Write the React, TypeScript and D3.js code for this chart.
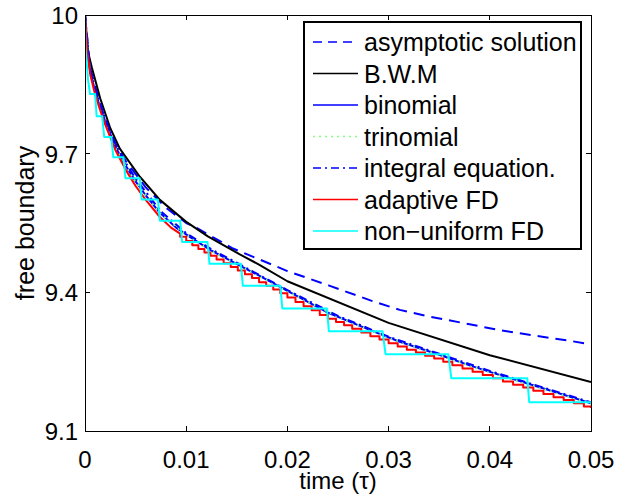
import React from 'react';
import * as d3 from 'd3';

const W = 628;
const H = 495;
const PL = 85, PR = 591, PT = 15, PB = 431;

const xTicks = [0, 0.01, 0.02, 0.03, 0.04, 0.05];
const xTickLabels = ['0', '0.01', '0.02', '0.03', '0.04', '0.05'];
const yTicks = [9.1, 9.4, 9.7, 10];
const yTickLabels = ['9.1', '9.4', '9.7', '10'];

// asymptotic solution
const asymT = [0, 0.0005, 0.001, 0.002, 0.003, 0.004, 0.006, 0.008, 0.01, 0.011, 0.0145, 0.02, 0.0242, 0.0284, 0.0311, 0.0339, 0.038, 0.041, 0.0442, 0.0477, 0.05];
const asymV = [10, 9.885, 9.845, 9.772, 9.722, 9.685, 9.627, 9.583, 9.550, 9.540, 9.496, 9.446, 9.414, 9.381, 9.362, 9.348, 9.331, 9.318, 9.307, 9.296, 9.287];

// B.W.M
const bwmT = [0, 0.0003, 0.00067, 0.0015, 0.0025, 0.00344, 0.00542, 0.0074, 0.00997, 0.01214, 0.0153, 0.01728, 0.02, 0.03, 0.04, 0.05];
const bwmV = [10, 9.92, 9.887, 9.82, 9.755, 9.711, 9.650, 9.600, 9.553, 9.521, 9.482, 9.459, 9.424, 9.334, 9.264, 9.206];

// binomial
const binT = [0, 0.0002, 0.0005, 0.001, 0.0015, 0.002, 0.003, 0.004, 0.005, 0.006, 0.0074, 0.009, 0.0107, 0.0125, 0.0153, 0.0173, 0.02, 0.0239, 0.028, 0.0311, 0.035, 0.038, 0.04, 0.045, 0.05];
const binV = [10, 9.93, 9.88, 9.835, 9.80, 9.77, 9.715, 9.675, 9.64, 9.61, 9.572, 9.54, 9.515, 9.49, 9.458, 9.435, 9.403, 9.357, 9.32, 9.293, 9.265, 9.242, 9.228, 9.194, 9.160];

// trinomial
const triT = [0, 0.0005, 0.001, 0.002, 0.003, 0.005, 0.0075, 0.01, 0.0125, 0.015, 0.0175, 0.02, 0.025, 0.03, 0.035, 0.04, 0.045, 0.05];
const triV = [10, 9.879, 9.834, 9.769, 9.714, 9.639, 9.569, 9.525, 9.489, 9.461, 9.432, 9.402, 9.347, 9.302, 9.264, 9.227, 9.193, 9.159];

// integral equation
const intT = [0, 0.0005, 0.001, 0.002, 0.003, 0.004, 0.005, 0.0075, 0.01, 0.0125, 0.015, 0.0175, 0.02, 0.025, 0.03, 0.035, 0.04, 0.045, 0.05];
const intV = [10, 9.885, 9.84, 9.775, 9.721, 9.681, 9.646, 9.575, 9.528, 9.493, 9.464, 9.434, 9.405, 9.349, 9.304, 9.267, 9.230, 9.196, 9.162];

// adaptive FD: smooth start, then staircase
const redStartT = [0, 0.0002, 0.0005, 0.001, 0.0015, 0.002, 0.003, 0.004, 0.005, 0.006, 0.0074, 0.0085, 0.0094];
const redStartV = [10, 9.925, 9.873, 9.828, 9.794, 9.763, 9.708, 9.666, 9.63, 9.600, 9.563, 9.540, 9.527];
const redStepT = [0.0094, 0.0100, 0.0106, 0.0112, 0.0118, 0.0124, 0.0130, 0.0137, 0.0144, 0.0151, 0.0158, 0.0165, 0.0172, 0.0179, 0.0186, 0.0193, 0.0200, 0.0208, 0.0216, 0.0224, 0.0232, 0.0240, 0.0248, 0.0256, 0.0264, 0.0273, 0.0282, 0.0291, 0.0300, 0.0309, 0.0318, 0.0327, 0.0336, 0.0345, 0.0354, 0.0363, 0.0373, 0.0383, 0.0393, 0.0403, 0.0413, 0.0423, 0.0433, 0.0443, 0.0453, 0.0463, 0.0473, 0.0483, 0.0493, 0.0500];
const redStepV = [9.520, 9.511, 9.502, 9.494, 9.486, 9.479, 9.471, 9.463, 9.455, 9.447, 9.439, 9.431, 9.422, 9.414, 9.406, 9.398, 9.389, 9.379, 9.370, 9.361, 9.351, 9.343, 9.336, 9.329, 9.321, 9.313, 9.305, 9.298, 9.290, 9.283, 9.276, 9.270, 9.263, 9.257, 9.250, 9.242, 9.235, 9.228, 9.221, 9.214, 9.207, 9.200, 9.194, 9.187, 9.180, 9.173, 9.167, 9.160, 9.153, 9.150];

// non-uniform FD
const cyanT = [0, 0.00005, 0.0003, 0.0005, 0.0010, 0.00115, 0.0017, 0.0019, 0.0026, 0.0028, 0.0038, 0.0040, 0.0054, 0.0056, 0.0072, 0.0074, 0.0094, 0.0096, 0.0121, 0.0123, 0.0154, 0.0156, 0.0193, 0.0195, 0.0239, 0.0241, 0.0294, 0.0297, 0.0359, 0.0362, 0.0437, 0.0439, 0.05];
const cyanV = [10, 9.93, 9.86, 9.829, 9.829, 9.781, 9.781, 9.736, 9.736, 9.692, 9.692, 9.647, 9.647, 9.601, 9.601, 9.555, 9.555, 9.509, 9.509, 9.462, 9.462, 9.414, 9.414, 9.365, 9.365, 9.316, 9.316, 9.266, 9.266, 9.214, 9.214, 9.162, 9.162];

const legendNames = ['asymptotic solution', 'B.W.M', 'binomial', 'trinomial', 'integral equation.', 'adaptive FD', 'non\u2212uniform FD'];
const legendColors = ['#0000ff', '#000000', '#0000ff', '#80ff80', '#0000ff', '#ff0000', '#00ffff'];
const legendDash = ['11,7', '', '', '2,4', '8,4,2,4', '', ''];

const FONT = '"Liberation Sans", Arial, Helvetica, sans-serif';

export default function App() {
  const x = d3.scaleLinear().domain([0, 0.05]).range([PL, PR]);
  const y = d3.scaleLinear().domain([9.1, 10]).range([PB, PT]);
  const line = d3.line<[number, number]>().x(d => x(d[0])).y(d => y(d[1]));

  const zip = (t: number[], v: number[]) => t.map((tt, i) => [tt, v[i]] as [number, number]);

  const redPts: [number, number][] = zip(redStartT, redStartV);
  let prev = redStartV[redStartV.length - 1];
  redStepT.forEach((t, i) => {
    redPts.push([t, prev]);
    redPts.push([t, redStepV[i]]);
    prev = redStepV[i];
  });

  const series = [
    { pts: zip(asymT, asymV), color: legendColors[0], dash: legendDash[0], w: 2 },
    { pts: zip(bwmT, bwmV), color: legendColors[1], dash: legendDash[1], w: 2 },
    { pts: zip(binT, binV), color: legendColors[2], dash: legendDash[2], w: 2 },
    { pts: zip(triT, triV), color: legendColors[3], dash: legendDash[3], w: 2 },
    { pts: zip(intT, intV), color: legendColors[4], dash: legendDash[4], w: 2 },
    { pts: redPts, color: legendColors[5], dash: legendDash[5], w: 2 },
    { pts: zip(cyanT, cyanV), color: legendColors[6], dash: legendDash[6], w: 2 },
  ];

  const tickLen = 5;
  const legX = 304, legY = 22, legW = 277, legH = 227;
  const rowY0 = 42, rowDy = 31.5;

  return (
    <svg width={W} height={H} style={{ position: 'absolute', left: 0, top: 0, background: '#fff' }} fontFamily={FONT}>
      <defs>
        <clipPath id="plotclip">
          <rect x={PL} y={PT} width={PR - PL} height={PB - PT} />
        </clipPath>
      </defs>
      <rect x={0} y={0} width={W} height={H} fill="#fff" />
      <g clipPath="url(#plotclip)">
        {series.map((s, i) => (
          <path key={i} d={line(s.pts) || ''} fill="none" stroke={s.color} strokeWidth={s.w}
            strokeDasharray={s.dash || undefined} strokeLinejoin="round" />
        ))}
      </g>
      <rect x={PL} y={PT} width={PR - PL} height={PB - PT} fill="none" stroke="#000" strokeWidth={1} shapeRendering="crispEdges" />
      {xTicks.map((t, i) => (
        <g key={'xt' + i}>
          <line x1={x(t)} x2={x(t)} y1={PB} y2={PB - tickLen} stroke="#000" shapeRendering="crispEdges" />
          <line x1={x(t)} x2={x(t)} y1={PT} y2={PT + tickLen} stroke="#000" shapeRendering="crispEdges" />
          <text x={x(t)} y={468} textAnchor="middle" fontSize={24} fill="#000">{xTickLabels[i]}</text>
        </g>
      ))}
      {yTicks.map((t, i) => (
        <g key={'yt' + i}>
          <line x1={PL} x2={PL + tickLen} y1={y(t)} y2={y(t)} stroke="#000" shapeRendering="crispEdges" />
          <line x1={PR} x2={PR - tickLen} y1={y(t)} y2={y(t)} stroke="#000" shapeRendering="crispEdges" />
          <text x={78} y={y(t) + 9} textAnchor="end" fontSize={24} fill="#000">{yTickLabels[i]}</text>
        </g>
      ))}
      <text x={(PL + PR) / 2} y={489} textAnchor="middle" fontSize={24} fill="#000">time (τ)</text>
      <text transform={`translate(34,${(PT + PB) / 2}) rotate(-90)`} textAnchor="middle" fontSize={25} fill="#000">free boundary</text>

      <rect x={legX} y={legY} width={legW} height={legH} fill="#fff" stroke="#000" strokeWidth={1.2} shapeRendering="crispEdges" />
      {legendNames.map((n, i) => {
        const cy = rowY0 + i * rowDy;
        return (
          <g key={'lg' + i}>
            <line x1={313} x2={358} y1={cy} y2={cy} stroke={legendColors[i]} strokeWidth={1.6}
              strokeDasharray={legendDash[i] ? (i === 0 ? '9,6' : legendDash[i]) : undefined} />
            <text x={364} y={cy + 9} fontSize={25} fill="#000">{n}</text>
          </g>
        );
      })}
    </svg>
  );
}
